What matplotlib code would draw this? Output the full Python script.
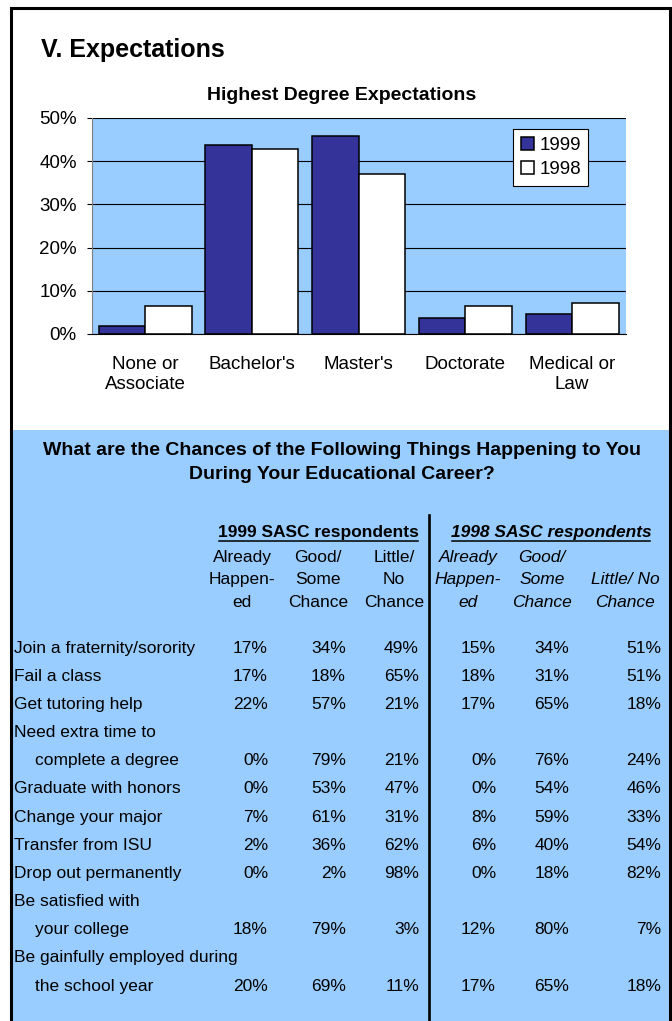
"""Expectations page: degree expectations bar chart and chances table."""

import matplotlib

matplotlib.use("Agg")
import matplotlib.pyplot as plt
from matplotlib.ticker import PercentFormatter

plt.rcParams["font.family"] = ["Liberation Sans", "DejaVu Sans"]

# --- chart data -------------------------------------------------------------
degree_labels = ["None or\nAssociate", "Bachelor's", "Master's", "Doctorate", "Medical or\nLaw"]
degree_1999 = [1.8, 43.8, 45.8, 3.8, 4.7]
degree_1998 = [6.4, 42.8, 37.0, 6.4, 7.1]

# --- table data -------------------------------------------------------------
row_labels = [
    ["Join a fraternity/sorority"],
    ["Fail a class"],
    ["Get tutoring help"],
    ["Need extra time to", "complete a degree"],
    ["Graduate with honors"],
    ["Change your major"],
    ["Transfer from ISU"],
    ["Drop out permanently"],
    ["Be satisfied with", "your college"],
    ["Be gainfully employed during", "the school year"],
]
already_1999 = [17, 17, 22, 0, 0, 7, 2, 0, 18, 20]
good_1999 = [34, 18, 57, 79, 53, 61, 36, 2, 79, 69]
little_1999 = [49, 65, 21, 21, 47, 31, 62, 98, 3, 11]
already_1998 = [15, 18, 17, 0, 0, 8, 6, 0, 12, 17]
good_1998 = [34, 31, 65, 76, 54, 59, 40, 18, 80, 65]
little_1998 = [51, 51, 18, 24, 46, 33, 54, 82, 7, 18]

headers_1999 = [["Already", "Happen-", "ed"], ["Good/", "Some", "Chance"], ["Little/", "No", "Chance"]]
headers_1998 = [["Already", "Happen-", "ed"], ["Good/", "Some", "Chance"], ["", "Little/ No", "Chance"]]

LIGHT_BLUE = "#99CCFF"
NAVY = "#333399"
W, H = 672, 1021

fig = plt.figure(figsize=(W / 100, H / 100), dpi=100)

# pixel canvas for the page furniture
cv = fig.add_axes([0, 0, 1, 1])
cv.set_xlim(0, W)
cv.set_ylim(H, 0)
cv.axis("off")

# table background and page frame
cv.add_patch(plt.Rectangle((10, 430), 660, H - 430, facecolor=LIGHT_BLUE, edgecolor="none"))
cv.plot([10.5, 10.5, 669.5, 669.5], [H + 5, 8.5, 8.5, H + 5], color="black", lw=2.2,
        solid_joinstyle="miter", clip_on=False)

cv.text(41, 50, "V. Expectations", fontsize=18, fontweight="bold", ha="left", va="center")
cv.text(342, 95, "Highest Degree Expectations", fontsize=14, fontweight="bold",
        ha="center", va="center")

# --- bar chart ----------------------------------------------------------------
left, right, top, bottom = 91.7, 625.5, 118, 334
ax = fig.add_axes([left / W, 1 - bottom / H, (right - left) / W, (bottom - top) / H])
ax.set_facecolor(LIGHT_BLUE)

x = range(len(degree_labels))
bw = 0.435
bars99 = ax.bar([i - bw / 2 for i in x], degree_1999, width=bw, color=NAVY,
                edgecolor="black", linewidth=1.1, label="1999")
bars98 = ax.bar([i + bw / 2 for i in x], degree_1998, width=bw, color="white",
                edgecolor="black", linewidth=1.1, label="1998")

ax.set_xlim(-0.5, 4.5)
ax.set_ylim(0, 50)
ax.set_yticks(range(0, 51, 10))
ax.yaxis.set_major_formatter(PercentFormatter(xmax=100, decimals=0))
ax.yaxis.grid(True, color="black", linewidth=0.8)
ax.set_axisbelow(True)
ax.set_xticks(list(x))
ax.set_xticklabels(degree_labels, fontsize=13.5, linespacing=1.25)
ax.tick_params(axis="x", length=0, pad=16)
ax.tick_params(axis="y", length=3.8, width=0.8, pad=7, labelsize=13.5)
for side in ("top", "right"):
    ax.spines[side].set_visible(False)
ax.spines["left"].set_color("#808080")
ax.spines["left"].set_linewidth(0.8)
ax.spines["bottom"].set_linewidth(0.8)

leg = ax.legend(handles=[bars99, bars98], loc="upper left",
                bbox_to_anchor=(513 / W, 1 - 129 / H), bbox_transform=fig.transFigure,
                borderaxespad=0, fontsize=13.5, frameon=True, fancybox=False,
                framealpha=1, edgecolor="black", borderpad=0.4, labelspacing=0.4,
                handlelength=0.7, handleheight=0.7, handletextpad=0.3)
leg.get_frame().set_linewidth(0.8)

# --- chances table --------------------------------------------------------------
FS = 12.5
cv.text(342, 450, "What are the Chances of the Following Things Happening to You",
        fontsize=14, fontweight="bold", ha="center", va="center")
cv.text(342, 474, "During Your Educational Career?",
        fontsize=14, fontweight="bold", ha="center", va="center")

cv.text(318, 532, "1999 SASC respondents", fontsize=FS, fontweight="bold",
        ha="center", va="center")
cv.plot([219, 418], [541, 541], color="black", lw=1.1)
cv.text(551, 532, "1998 SASC respondents", fontsize=FS, fontweight="bold",
        style="italic", ha="center", va="center")
cv.plot([452, 650], [541, 541], color="black", lw=1.1)

cv.plot([429, 429], [515, H + 5], color="black", lw=1.9, clip_on=False)

header_lines_y = [557, 579.5, 602]
for cx, lines in zip([242, 318, 394], headers_1999):
    for ly, s in zip(header_lines_y, lines):
        cv.text(cx, ly, s, fontsize=FS, ha="center", va="center")
for cx, lines in zip([468, 542, 625], headers_1998):
    for ly, s in zip(header_lines_y, lines):
        cv.text(cx, ly, s, fontsize=FS, ha="center", va="center", style="italic")

columns = [already_1999, good_1999, little_1999, already_1998, good_1998, little_1998]
value_right = [268, 346, 419, 496, 569, 661]

row_y0, row_step = 648, 28.17
slot = 0
for r, label_lines in enumerate(row_labels):
    for k, s in enumerate(label_lines):
        y = row_y0 + (slot + k) * row_step
        cv.text(14 if k == 0 else 35, y, s, fontsize=FS, ha="left", va="center")
    y = row_y0 + (slot + len(label_lines) - 1) * row_step
    for xr, col in zip(value_right, columns):
        cv.text(xr, y, f"{col[r]}%", fontsize=FS, ha="right", va="center")
    slot += len(label_lines)

fig.savefig("out.png", dpi=100)
